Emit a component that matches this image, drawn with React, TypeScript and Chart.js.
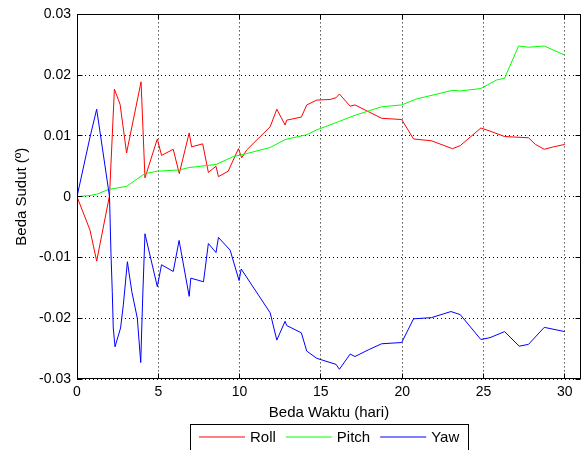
import React, { useEffect, useRef } from "react";
import { Chart, registerables } from "chart.js";

Chart.register(...registerables);

// ---- data ----
const seriesLabels = ["Roll", "Pitch", "Yaw"];
const seriesColors = ["#ff0000", "#00ff00", "#0000ff"];

const rollT = [0, 0.8, 1.21, 2.0, 2.3, 2.65, 3.05, 3.94, 4.18, 4.94, 5.2, 5.92, 6.29, 6.9, 7.05, 7.73, 8.08, 8.55, 8.7, 9.3, 9.93, 10.13, 10.44, 11.88, 12.29, 12.8, 12.9, 13.8, 14.13, 14.75, 15.57, 15.94, 16.14, 16.8, 17.1, 17.92, 18.74, 19.97, 20.7, 21.8, 23.1, 23.57, 24.84, 25.4, 26.3, 27.77, 28.2, 28.74, 29.3, 30];
const rollV = [0, -0.0055, -0.0106, 0.0002, 0.0177, 0.0152, 0.0072, 0.0189, 0.0031, 0.0095, 0.0068, 0.0078, 0.0038, 0.0105, 0.0082, 0.0087, 0.004, 0.005, 0.0033, 0.0042, 0.0079, 0.0064, 0.0077, 0.0115, 0.0144, 0.0118, 0.0126, 0.0131, 0.0151, 0.0159, 0.016, 0.0163, 0.0169, 0.0149, 0.0151, 0.014, 0.0129, 0.0127, 0.0095, 0.0092, 0.0079, 0.0084, 0.0113, 0.0108, 0.0099, 0.0097, 0.0086, 0.0078, 0.0082, 0.0086];

const pitchT = [0, 0.8, 1.21, 1.95, 3.05, 4.18, 4.94, 6.29, 6.9, 8.55, 9.62, 10.44, 11.88, 12.8, 14.13, 14.75, 16.14, 17.1, 18.74, 19.97, 20.9, 23.1, 23.57, 24.84, 25.8, 26.3, 27.16, 27.77, 28.74, 30];
const pitchV = [0, 0.0002, 0.0004, 0.0012, 0.0017, 0.0038, 0.0042, 0.0044, 0.0048, 0.0053, 0.0066, 0.0071, 0.0081, 0.0094, 0.0102, 0.011, 0.0124, 0.0134, 0.0148, 0.0151, 0.0161, 0.0175, 0.0174, 0.0178, 0.0192, 0.0195, 0.0248, 0.0246, 0.0248, 0.0233];

const yawT = [0, 0.8, 1.21, 2.0, 2.09, 2.17, 2.23, 2.34, 2.68, 2.85, 3.1, 3.37, 3.71, 3.92, 4.04, 4.18, 4.94, 5.2, 5.92, 6.28, 6.9, 7.0, 7.78, 8.08, 8.55, 8.7, 9.42, 9.97, 10.1, 11.88, 12.29, 12.8, 12.9, 13.8, 14.13, 14.75, 15.94, 16.14, 16.8, 17.1, 17.92, 18.74, 19.97, 20.7, 21.8, 23.0, 23.57, 24.84, 25.4, 26.3, 27.2, 27.77, 28.74, 30];
const yawV = [0, 0.0098, 0.0144, 0, -0.0094, -0.0156, -0.0216, -0.0247, -0.0216, -0.0178, -0.0107, -0.0156, -0.02, -0.0273, -0.0167, -0.0061, -0.0148, -0.0112, -0.0123, -0.0072, -0.0164, -0.0134, -0.014, -0.0077, -0.0092, -0.0067, -0.0088, -0.0138, -0.0119, -0.0191, -0.0236, -0.0205, -0.0212, -0.0224, -0.0254, -0.0266, -0.0276, -0.0284, -0.0259, -0.0263, -0.0252, -0.0242, -0.024, -0.0201, -0.0199, -0.0189, -0.0194, -0.0235, -0.0232, -0.0222, -0.0246, -0.0243, -0.0215, -0.0222];

const xTicks = [0, 5, 10, 15, 20, 25, 30];
const yTicks = [-0.03, -0.02, -0.01, 0, 0.01, 0.02, 0.03];
const xTitle = "Beda Waktu (hari)";
const yTitle = "Beda Sudut (º)";

const FONT = "'Liberation Sans', Arial, sans-serif";
const FSIZE = 14;
const TSIZE = 15;

const toPoints = (t: number[], v: number[]) => t.map((x, i) => ({ x, y: v[i] }));

const align = (p: number) => Math.round(p - 0.5) + 0.5;

const framePlugin = {
  id: "frameAndLegend",
  afterDraw(chart: any) {
    const { ctx, chartArea, scales } = chart;
    const { left, right, top, bottom } = chartArea;
    const xs = scales.x;
    const ys = scales.y;
    ctx.save();
    ctx.strokeStyle = "#000";
    ctx.lineWidth = 1;
    ctx.setLineDash([]);
    const L = Math.round(left) + 0.5;
    const R = Math.round(right) - 0.5;
    const T = Math.round(top) + 0.5;
    const B = Math.round(bottom) - 0.5;
    ctx.strokeRect(L, T, R - L, B - T);
    ctx.beginPath();
    const tl = 5;
    xs.ticks.forEach((t: any) => {
      const px = align(xs.getPixelForValue(t.value));
      ctx.moveTo(px, B);
      ctx.lineTo(px, B - tl);
      ctx.moveTo(px, T);
      ctx.lineTo(px, T + tl);
    });
    ys.ticks.forEach((t: any) => {
      const py = align(ys.getPixelForValue(t.value));
      ctx.moveTo(L, py);
      ctx.lineTo(L + tl, py);
      ctx.moveTo(R, py);
      ctx.lineTo(R - tl, py);
    });
    ctx.stroke();

    // legend box below the x-axis title
    ctx.font = `${TSIZE}px ${FONT}`;
    const ds = chart.data.datasets;
    const lineLen = 46;
    const gapText = 5;
    const gapItem = 10;
    const padX = 9;
    const widths = ds.map((d: any) => ctx.measureText(d.label).width);
    const total =
      padX * 2 +
      ds.length * (lineLen + gapText) +
      widths.reduce((a: number, b: number) => a + b, 0) +
      gapItem * (ds.length - 1);
    const cx = (left + right) / 2;
    const bx = Math.round(cx - total / 2);
    const by = Math.round(xs.bottom);
    ctx.strokeRect(bx + 0.5, by + 0.5, Math.round(total), 40);
    let cur = bx + padX;
    const cy = by + 14;
    ds.forEach((d: any, i: number) => {
      ctx.beginPath();
      ctx.strokeStyle = d.borderColor;
      ctx.moveTo(cur, cy - 1);
      ctx.lineTo(cur + lineLen, cy - 1);
      ctx.stroke();
      ctx.fillStyle = "#000";
      ctx.textBaseline = "middle";
      ctx.textAlign = "left";
      ctx.fillText(d.label, cur + lineLen + gapText, cy);
      cur += lineLen + gapText + widths[i] + gapItem;
    });
    ctx.restore();
  },
};

export default function App() {
  const ref = useRef<HTMLCanvasElement | null>(null);

  useEffect(() => {
    if (!ref.current) return;
    const series = [
      toPoints(rollT, rollV),
      toPoints(pitchT, pitchV),
      toPoints(yawT, yawV),
    ];
    const chart = new Chart(ref.current, {
      type: "line",
      data: {
        datasets: series.map((pts, i) => ({
          label: seriesLabels[i],
          data: pts,
          borderColor: seriesColors[i],
          backgroundColor: seriesColors[i],
          borderWidth: 1,
          pointRadius: 0,
          fill: false,
          tension: 0,
          order: 3 - i,
        })),
      },
      options: {
        animation: false,
        responsive: false,
        devicePixelRatio: 1,
        layout: { padding: { top: 10, right: 0, bottom: 26, left: 0 } },
        font: { family: FONT, size: FSIZE },
        plugins: {
          legend: { display: false },
          tooltip: { enabled: false },
        },
        scales: {
          x: {
            type: "linear",
            min: 0,
            max: 31,
            afterBuildTicks: (s: any) => {
              s.ticks = xTicks.map((v) => ({ value: v }));
            },
            afterFit: (s: any) => {
              s.height = 45;
            },
            ticks: {
              color: "#000",
              font: { family: FONT, size: FSIZE },
              padding: 5,
              maxRotation: 0,
              autoSkip: false,
              callback: (v: any) => String(v),
            },
            grid: {
              color: "#000",
              lineWidth: 1,
              drawTicks: false,
            },
            border: { display: false, dash: [1, 3] } as any,
            title: {
              display: true,
              text: xTitle,
              color: "#000",
              font: { family: FONT, size: TSIZE },
              padding: { top: 0, bottom: 2 },
            },
          },
          y: {
            type: "linear",
            min: -0.03,
            max: 0.03,
            afterBuildTicks: (s: any) => {
              s.ticks = yTicks.map((v) => ({ value: v }));
            },
            afterFit: (s: any) => {
              s.width = 77;
            },
            ticks: {
              color: "#000",
              font: { family: FONT, size: FSIZE },
              padding: 6,
              callback: (v: any) => (Math.abs(v) < 1e-9 ? "0" : Number(v).toFixed(2)),
            },
            grid: {
              color: "#000",
              lineWidth: 1,
              drawTicks: false,
            },
            border: { display: false, dash: [1, 3] } as any,
            title: {
              display: true,
              text: yTitle,
              color: "#000",
              font: { family: FONT, size: TSIZE },
              padding: { top: 13, bottom: 0 },
            },
          },
        },
      } as any,
      plugins: [framePlugin],
    });
    return () => chart.destroy();
  }, []);

  return (
    <div style={{ position: "absolute", left: 0, top: 0, width: 581, height: 450, background: "#fff" }}>
      <canvas ref={ref} width={581} height={450} style={{ width: 581, height: 450 }} />
    </div>
  );
}
